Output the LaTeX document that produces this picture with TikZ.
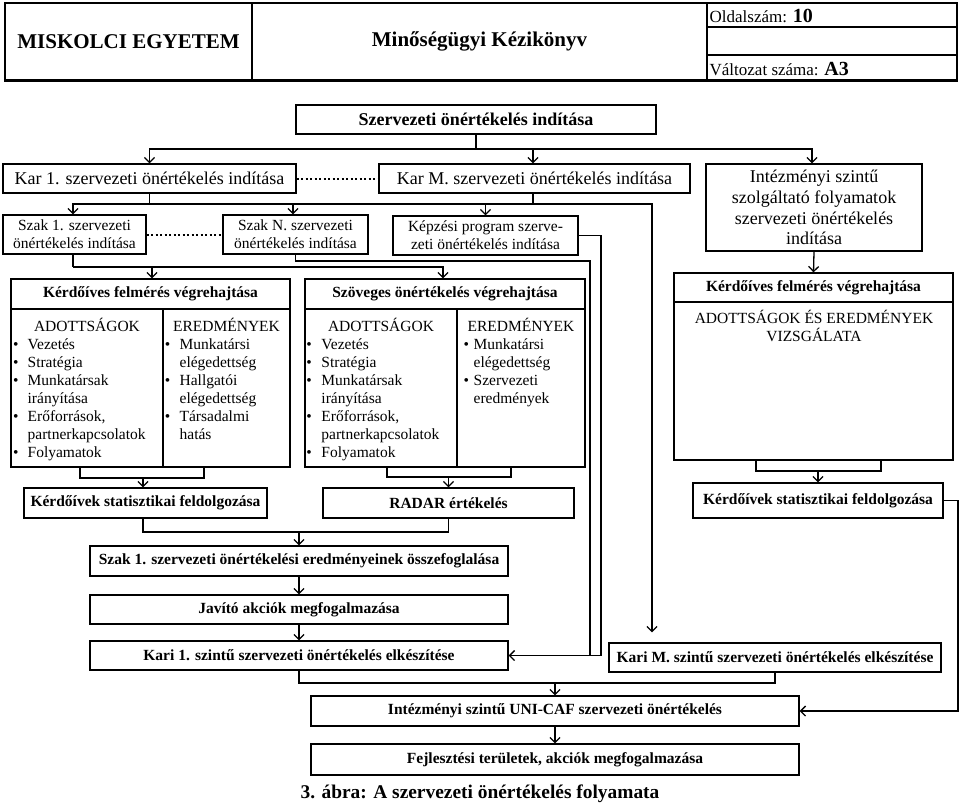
\documentclass[tikz,border=0pt]{standalone}
\usepackage{fontspec}
\setmainfont{Liberation Serif}
\usetikzlibrary{arrows.meta}
\newcommand\mybul[1]{\makebox[#1][l]{\textbullet}}
\newcommand\myind[1]{\hspace*{#1}}
\begin{document}
\begin{tikzpicture}[x=1pt,y=-1pt,line width=1.3pt,
 box/.style={draw,rectangle,inner sep=0pt,align=center},
 arr/.style={-{Straight Barb[length=5pt,width=10pt]}},
 dotline/.style={line width=2pt,dash pattern=on 2pt off 2.5pt},
 bt/.style={font=\fontsize{15.5}{18}\selectfont\bfseries},
 nt/.style={font=\fontsize{15.5}{18}\selectfont},
 lt/.style={font=\fontsize{18}{20.7}\selectfont},
 lbt/.style={font=\fontsize{18}{21}\selectfont\bfseries},
 ht/.style={font=\fontsize{21}{24}\selectfont\bfseries},
 st/.style={font=\fontsize{17}{20}\selectfont,anchor=west,inner sep=0pt},
 lst/.style={nt,anchor=base west,inner sep=0pt},
 hd/.style={nt,anchor=base,inner sep=0pt},
]
\useasboundingbox (0,0) rectangle (960,807);

% ---------- header ----------
\node[box,ht,minimum width=247pt,minimum height=77pt] (hA) at (128.5,41.5) {MISKOLCI EGYETEM};
\node[box,ht,minimum width=455pt,minimum height=77pt] (hB) at (479.5,41.5) {Minőségügyi Kézikönyv};
\node[box,minimum width=250pt,minimum height=24pt] (hC1) at (832,15) {};
\node[box,minimum width=250pt,minimum height=28pt] (hC2) at (832,41) {};
\node[box,minimum width=250pt,minimum height=25pt] (hC3) at (832,67.5) {};
\draw[line width=2.6pt] (hA.south west) -- (hC3.south east);
\node[st] (t3) at (709,16) {Oldalszám: {\fontsize{20}{22}\selectfont\bfseries 10}};
\node[st] (t4) at (709,69) {Változat száma: {\fontsize{20}{22}\selectfont\bfseries A3}};

% ---------- top level ----------
\node[box,lbt,minimum width=360pt,minimum height=29pt] (top) at (476,119.5) {Szervezeti önértékelés indítása};
\node[box,lt,minimum width=293pt,minimum height=29pt] (kar1) at (149.5,178.5) {Kar 1. szervezeti önértékelés indítása};
\node[box,lt,minimum width=311pt,minimum height=29pt] (karm) at (534.5,178.5) {Kar M. szervezeti önértékelés indítása};
\node[box,lt,minimum width=216pt,minimum height=87pt] (intez) at (814,207.5) {Intézményi szintű\\szolgáltató folyamatok\\szervezeti önértékelés\\indítása};

\node[box,nt,minimum width=143pt,minimum height=39pt] (szak1) at (74.5,234.5) {Szak 1. szervezeti\\önértékelés indítása};
\node[box,nt,minimum width=145pt,minimum height=39pt] (szakn) at (295.5,234.5) {Szak N. szervezeti\\önértékelés indítása};
\node[box,nt,minimum width=185pt,minimum height=39pt] (kepz) at (485.5,235.5) {Képzési program szerve-\\zeti önértékelés indítása};

% ---------- evaluation boxes ----------
\node[box,bt,minimum width=279pt,minimum height=30pt] (k1t) at (150.5,294) {Kérdőíves felmérés végrehajtása};
\node[box,minimum width=279pt,minimum height=158pt] (k1b) at (150.5,388) {};
\node[box,bt,minimum width=280pt,minimum height=30pt] (k2t) at (445,294) {Szöveges önértékelés végrehajtása};
\node[box,minimum width=280pt,minimum height=158pt] (k2b) at (445,388) {};
\node[box,bt,minimum width=279pt,minimum height=29pt] (k3t) at (813.5,287.5) {Kérdőíves felmérés végrehajtása};
\node[box,minimum width=279pt,minimum height=158pt] (k3b) at (813.5,381) {};

\draw (163,309) -- (163,467);
\draw (457,309) -- (457,467);

\node[hd] (h1) at (87,331) {ADOTTSÁGOK};
\node[hd] (h2) at (226.5,331) {EREDMÉNYEK};
\node[lst] (l1) at (12.5,349) {\begin{tabular}[t]{@{}l@{}}
\mybul{14.5pt}Vezetés\\ \mybul{14.5pt}Stratégia\\ \mybul{14.5pt}Munkatársak\\ \myind{14.5pt}irányítása\\
\mybul{14.5pt}Erőforrások,\\ \myind{14.5pt}partnerkapcsolatok\\ \mybul{14.5pt}Folyamatok\end{tabular}};
\node[lst] (l2) at (164.3,349) {\begin{tabular}[t]{@{}l@{}}
\mybul{14.7pt}Munkatársi\\ \myind{14.7pt}elégedettség\\ \mybul{14.7pt}Hallgatói\\ \myind{14.7pt}elégedettség\\
\mybul{14.7pt}Társadalmi\\ \myind{14.7pt}hatás\end{tabular}};

\node[hd] (h3) at (381,331) {ADOTTSÁGOK};
\node[hd] (h4) at (521,331) {EREDMÉNYEK};
\node[lst] (l3) at (305.8,349) {\begin{tabular}[t]{@{}l@{}}
\mybul{15pt}Vezetés\\ \mybul{15pt}Stratégia\\ \mybul{15pt}Munkatársak\\ \myind{15pt}irányítása\\
\mybul{15pt}Erőforrások,\\ \myind{15pt}partnerkapcsolatok\\ \mybul{15pt}Folyamatok\end{tabular}};
\node[lst] (l4) at (463,349) {\begin{tabular}[t]{@{}l@{}}
\mybul{10pt}Munkatársi\\ \myind{10pt}elégedettség\\ \mybul{10pt}Szervezeti\\ \myind{10pt}eredmények\end{tabular}};

\node[hd] (h5) at (814,323) {\begin{tabular}[t]{@{}c@{}}ADOTTSÁGOK ÉS EREDMÉNYEK\\ VIZSGÁLATA\end{tabular}};

\node[box,bt,minimum width=243pt,minimum height=30pt] (stat1) at (145.5,503) {Kérdőívek statisztikai feldolgozása};
\node[box,bt,minimum width=251pt,minimum height=30pt] (radar) at (448.5,503) {RADAR értékelés};
\node[box,bt,minimum width=250pt,minimum height=35pt] (stat2) at (818,500.5) {Kérdőívek statisztikai feldolgozása};

% ---------- lower chain ----------
\node[box,bt,minimum width=418pt,minimum height=30pt] (ossz) at (299,561) {Szak 1. szervezeti önértékelési eredményeinek összefoglalása};
\node[box,bt,minimum width=418pt,minimum height=29pt] (javito) at (299,609.5) {Javító akciók megfogalmazása};
\node[box,bt,minimum width=418pt,minimum height=29pt] (kari1) at (299,655.5) {Kari 1. szintű szervezeti önértékelés elkészítése};
\node[box,bt,minimum width=332pt,minimum height=29pt] (karim) at (775,657.5) {Kari M. szintű szervezeti önértékelés elkészítése};
\node[box,bt,minimum width=488pt,minimum height=30pt] (unicaf) at (555,711) {Intézményi szintű UNI-CAF szervezeti önértékelés};
\node[box,bt,minimum width=488pt,minimum height=31pt] (fejl) at (555,759.5) {Fejlesztési területek, akciók megfogalmazása};
\node[font=\fontsize{19.4}{22}\selectfont\bfseries,inner sep=0pt] (cap) at (480,794) {3. ábra: A szervezeti önértékelés folyamata};

% ---------- connectors ----------
\coordinate (j0) at (476,149);
\draw (top.south) -- (j0);
\draw[arr] (j0) -| (kar1.north);
\draw[arr] (j0) -| ([xshift=-1.5pt]karm.north);
\draw[arr] (j0) -| ([xshift=-2pt]intez.north);

\draw[dotline] (kar1.east) -- (karm.west);
\draw[dotline] (szak1.east) -- (szakn.west);

\coordinate (j1) at (149.5,204);
\coordinate (jm) at (533,204);
\coordinate (c652) at (652,204);
\draw (kar1.south) -- (j1);
\draw[arr] (j1) -| ([xshift=-1.5pt]szak1.north);
\draw[arr] (j1) -| ([xshift=-2.5pt]szakn.north);
\draw (j1) -- (jm);
\draw ([xshift=-1.5pt]karm.south) -- (jm);
\draw[arr] (jm) -| (kepz.north);
\draw[arr,shorten >=10pt] (jm) -- (c652) -- (c652 |- karim.north);

\coordinate (j2) at (73,267);
\draw ([xshift=-1.5pt]szak1.south) -- (j2);
\draw[arr] (j2) -| ([xshift=1.5pt]k1t.north);
\draw[arr] (j2) -| ([xshift=-2pt]k2t.north);

\coordinate (c590) at (590,655.5);
\coordinate (c601) at (601,655.5);
\draw (szakn.south) |- (590,261) -- (c590) -- (c601);
\draw[arr] (kepz.east) -| (c601) -- (kari1.east);

\draw[arr] (intez.south) -- (k3t.north);

% body outputs
\coordinate (b1) at (143,478);
\draw ([xshift=-70.5pt]k1b.south) |- (b1) -| ([xshift=53.5pt]k1b.south);
\draw[arr] (b1) -- (b1 |- stat1.north);
\coordinate (b2) at (448.5,477);
\draw ([xshift=-58pt]k2b.south) |- (b2) -| ([xshift=66pt]k2b.south);
\draw[arr] (b2) -- (radar.north);
\coordinate (b3) at (818,471);
\draw ([xshift=-57.5pt]k3b.south) |- (b3) -| ([xshift=67.5pt]k3b.south);
\draw[arr] (b3) -- (stat2.north);

\coordinate (b4) at (299,532);
\draw ([xshift=-2.5pt]stat1.south) |- (b4) -| (radar.south);
\draw[arr] (b4) -- (ossz.north);
\draw[arr] (ossz) -- (javito);
\draw[arr] (javito) -- (kari1);

\coordinate (b5) at (555,683);
\draw (kari1.south) |- (b5) -| (karim.south);
\draw[arr] (b5) -- (unicaf.north);
\draw[arr] (unicaf) -- (fejl);

\coordinate (c958) at (958,500.5);
\draw[arr] (stat2.east) -- (c958) |- (unicaf.east);
\end{tikzpicture}
\end{document}
